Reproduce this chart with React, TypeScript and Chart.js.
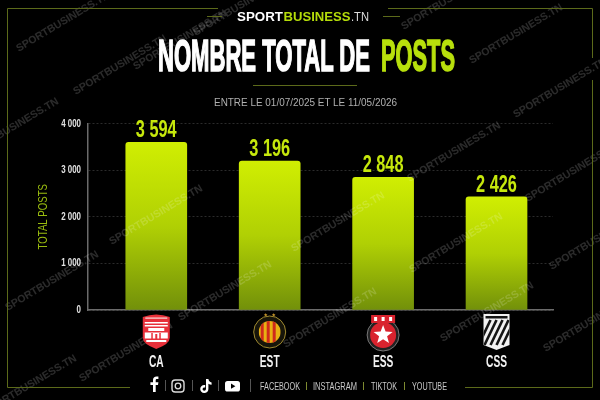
import React, { useEffect, useRef } from "react";
import { Chart, registerables } from "chart.js";

Chart.register(...registerables);

const categories = ["CA", "EST", "ESS", "CSS"];
const totalPosts = [3594, 3196, 2848, 2426];
const yTicks = [0, 1000, 2000, 3000, 4000];
const watermarkCentres = [
  [63, 22], [120, 65], [12, 128], [516, 34], [560, 88], [572, 172], [454, 152], [596, 240],
  [456, 243], [487, 312], [338, 222], [225, 291], [156, 215], [52, 281], [126, 352], [330, 318],
  [590, 322], [240, 6], [180, 40], [448, 0], [30, 385],
];

const LIME = "#b5dc0a";
const SANS = '"Liberation Sans", sans-serif';

const fmt = (v: number) => String(v).replace(/\B(?=(\d{3})+$)/g, " ");

function shield(ctx: CanvasRenderingContext2D, x: number, top: number, w: number, h: number) {
  ctx.beginPath();
  ctx.moveTo(x - w / 2, top + 3);
  ctx.quadraticCurveTo(x, top - 2, x + w / 2, top + 3);
  ctx.lineTo(x + w / 2, top + h * 0.68);
  ctx.quadraticCurveTo(x + w / 2, top + h * 0.86, x, top + h);
  ctx.quadraticCurveTo(x - w / 2, top + h * 0.86, x - w / 2, top + h * 0.68);
  ctx.closePath();
}

function star(ctx: CanvasRenderingContext2D, x: number, y: number, r: number) {
  ctx.beginPath();
  for (let i = 0; i < 10; i++) {
    const a = -Math.PI / 2 + (i * Math.PI) / 5;
    const q = i % 2 ? r * 0.42 : r;
    ctx.lineTo(x + q * Math.cos(a), y + q * Math.sin(a));
  }
  ctx.closePath();
  ctx.fill();
}

function logoCA(ctx: CanvasRenderingContext2D, x: number) {
  shield(ctx, x, 314, 27, 35);
  ctx.fillStyle = "#e8303a";
  ctx.fill();
  ctx.fillStyle = "#f6dede";
  ctx.fillRect(x - 11, 317.5, 22, 1.2);
  ctx.fillStyle = "#fff";
  ctx.fillRect(x - 11.5, 322, 23, 1.5);
  ctx.fillRect(x - 11.5, 325, 23, 1.5);
  ctx.fillRect(x - 8, 328, 16, 3);
  ctx.fillRect(x - 11.5, 332.5, 23, 6);
  ctx.fillRect(x - 10, 340, 20, 2);
  ctx.fillStyle = "#e8303a";
  ctx.fillRect(x - 5, 333, 1.5, 6);
  ctx.fillRect(x + 3, 333, 1.5, 6);
  ctx.fillRect(x - 1, 334, 2, 5);
}

function logoEST(ctx: CanvasRenderingContext2D, x: number) {
  const y = 332;
  ctx.fillStyle = "#c8962a";
  star(ctx, x - 4, 315, 2);
  star(ctx, x + 4, 315, 2);
  ctx.fillStyle = "#17150a";
  ctx.strokeStyle = "#a08a30";
  ctx.lineWidth = 1;
  ctx.beginPath();
  ctx.arc(x, y, 16, 0, Math.PI * 2);
  ctx.fill();
  ctx.stroke();
  ctx.save();
  ctx.beginPath();
  ctx.arc(x, y, 11, 0, Math.PI * 2);
  ctx.clip();
  ctx.fillStyle = "#e8b012";
  ctx.fillRect(x - 11, y - 11, 22, 22);
  ctx.fillStyle = "#cf2a1c";
  for (let i = -9; i <= 7; i += 6) ctx.fillRect(x + i, y - 11, 3, 22);
  ctx.restore();
}

function logoESS(ctx: CanvasRenderingContext2D, x: number) {
  const y = 335;
  ctx.fillStyle = "#222";
  ctx.beginPath();
  ctx.arc(x, y, 16, 0, Math.PI * 2);
  ctx.fill();
  ctx.strokeStyle = "#777";
  ctx.lineWidth = 1;
  ctx.stroke();
  ctx.fillStyle = "#d9232e";
  ctx.beginPath();
  ctx.arc(x, y, 13, 0, Math.PI * 2);
  ctx.fill();
  ctx.fillStyle = "#fff";
  star(ctx, x, y, 10);
  ctx.fillStyle = "#d9232e";
  ctx.fillRect(x - 12, 315, 24, 8);
  ctx.fillStyle = "#fff";
  ctx.fillRect(x - 9, 317, 3, 4);
  ctx.fillRect(x - 1.5, 317, 3, 4);
  ctx.fillRect(x + 6, 317, 3, 4);
}

function logoCSS(ctx: CanvasRenderingContext2D, x: number) {
  ctx.save();
  ctx.beginPath();
  ctx.moveTo(x - 13, 314);
  ctx.lineTo(x + 13, 314);
  ctx.lineTo(x + 13, 345);
  ctx.lineTo(x, 350);
  ctx.lineTo(x - 13, 345);
  ctx.closePath();
  ctx.fillStyle = "#f2f2f2";
  ctx.fill();
  ctx.clip();
  ctx.fillStyle = "#151515";
  ctx.fillRect(x - 11, 316, 22, 2.5);
  ctx.lineWidth = 2.6;
  ctx.strokeStyle = "#151515";
  for (let i = -12; i <= 12; i += 6) {
    ctx.beginPath();
    ctx.moveTo(x + i + 6, 320);
    ctx.lineTo(x + i - 6, 345);
    ctx.stroke();
  }
  ctx.restore();
}

const logos = [logoCA, logoEST, logoESS, logoCSS];

const overlayPlugin = {
  id: "overlay",
  beforeDraw(chart: any) {
    const { x: xs, y: ys } = chart.scales;
    if (ys._condensed) return;
    ys._condensed = true;
    const ctx = chart.ctx;
    const drawYLabels = ys.drawLabels.bind(ys);
    ys.drawLabels = (area: any) => {
      const anchor = ys.right - 7;
      ctx.save();
      ctx.translate(anchor, 0);
      ctx.scale(0.72, 1);
      ctx.translate(-anchor, 0);
      drawYLabels(area);
      ctx.restore();
    };
    const drawYTitle = ys.drawTitle.bind(ys);
    ys.drawTitle = () => {
      const mid = (ys.top + ys.bottom) / 2;
      ctx.save();
      ctx.translate(0, mid);
      ctx.scale(1, 0.77);
      ctx.translate(0, -mid);
      drawYTitle();
      ctx.restore();
    };
    xs.drawLabels = () => {
      ctx.save();
      ctx.fillStyle = "#f2f2f2";
      ctx.textAlign = "center";
      ctx.textBaseline = "alphabetic";
      ctx.font = `bold 17px ${SANS}`;
      xs.ticks.forEach((t: any) => {
        ctx.save();
        ctx.translate(xs.getPixelForValue(t.value), xs.top + 57);
        ctx.scale(0.6, 1);
        ctx.fillText(t.label, 0, 0);
        ctx.restore();
      });
      ctx.restore();
    };
  },
  afterDatasetsDraw(chart: any) {
    const { ctx, scales } = chart;
    ctx.save();
    ctx.textAlign = "center";
    ctx.textBaseline = "middle";
    ctx.font = `bold 10.5px ${SANS}`;
    ctx.fillStyle = "rgba(255,255,255,0.17)";
    watermarkCentres.forEach(([cx, cy]) => {
      ctx.save();
      ctx.translate(cx, cy);
      ctx.rotate((-31 * Math.PI) / 180);
      ctx.fillText("SPORTBUSINESS.TN", 0, 0);
      ctx.restore();
    });
    ctx.restore();

    ctx.save();
    ctx.fillStyle = "#c6e80c";
    ctx.textAlign = "center";
    ctx.textBaseline = "alphabetic";
    ctx.font = `bold 24px ${SANS}`;
    totalPosts.forEach((v, i) => {
      const x = scales.x.getPixelForValue(i);
      const y = scales.y.getPixelForValue(v);
      ctx.save();
      ctx.translate(x, y - 5);
      ctx.scale(0.68, 1);
      ctx.fillText(fmt(v), 0, 0);
      ctx.restore();
    });
    ctx.restore();

    logos.forEach((draw, i) => {
      ctx.save();
      draw(ctx, scales.x.getPixelForValue(i));
      ctx.restore();
    });
  },
};

function Icons() {
  return (
    <g>
      <path d="M154 392v-7h-2.6v-2.8h2.6v-2.2c0-2.4 1.4-3.6 3.5-3.6h1.9v2.7h-1.3c-1 0-1.4.5-1.4 1.3v1.8h2.7l-.4 2.8h-2.3v7z" fill="#fff" transform="translate(-1 0)" />
      <rect x="172" y="380" width="12" height="12" rx="3.2" fill="none" stroke="#ddd" strokeWidth="1.4" />
      <circle cx="178" cy="386" r="2.8" fill="none" stroke="#ddd" strokeWidth="1.3" />
      <path d="M206 379h2.4c.2 1.9 1.4 3.2 3.2 3.4v2.4c-1.2 0-2.3-.4-3.2-1v5.2c0 2.4-1.9 4-4.2 4s-4-1.8-4-4c0-2.5 2.2-4.4 5-3.9v2.5c-1.3-.4-2.6.3-2.6 1.5 0 1 .8 1.6 1.6 1.6 1 0 1.8-.7 1.8-1.9z" fill="#fff" />
      <rect x="225" y="381" width="15" height="10.5" rx="2.6" fill="#fff" />
      <path d="M231 383.6v5.2l4.4-2.6z" fill="#000" />
      {[165, 192, 218, 250].map((x, i) => (
        <rect key={x} x={x} y={i === 3 ? 379 : 380} width="1" height={i === 3 ? 13 : 11} fill="#555" />
      ))}
    </g>
  );
}

export default function App() {
  const ref = useRef<HTMLCanvasElement | null>(null);

  useEffect(() => {
    document.body.style.margin = "0";
    document.body.style.background = "#000";
    const chart = new Chart(ref.current!, {
      type: "bar",
      plugins: [overlayPlugin],
      data: {
        datasets: [
          {
            label: "Total posts",
            data: totalPosts.map((y, x) => ({ x, y })),
            barThickness: 61,
            borderRadius: { topLeft: 3, topRight: 3, bottomLeft: 0, bottomRight: 0 },
            borderSkipped: false,
            backgroundColor: (c: any) => {
              const { chart: ch, raw } = c;
              if (!raw || !ch.scales.y || !ch.chartArea) return LIME;
              const top = ch.scales.y.getPixelForValue(raw.y);
              const bottom = ch.scales.y.getPixelForValue(0);
              if (!Number.isFinite(top) || !Number.isFinite(bottom)) return LIME;
              const g = ch.ctx.createLinearGradient(0, top, 0, bottom);
              g.addColorStop(0, "#d0ee02");
              g.addColorStop(0.5, "#b0d004");
              g.addColorStop(1, "#72900a");
              return g;
            },
          },
        ],
      } as any,
      options: {
        animation: false,
        responsive: false,
        layout: { padding: { top: 123.5, right: 47, bottom: 0, left: 0 } },
        plugins: { legend: { display: false }, tooltip: { enabled: false }, title: { display: false } },
        scales: {
          x: {
            type: "linear",
            offset: false,
            min: -0.602,
            max: 3.498,
            afterFit: (s: any) => { s.height = 90; },
            grid: { display: false, drawTicks: false },
            border: { color: "#6b6b6b", width: 1.5 },
            ticks: {
              stepSize: 1,
              includeBounds: false,
              autoSkip: false,
              maxRotation: 0,
              padding: 44,
              color: "#f2f2f2",
              font: { family: SANS, size: 17, weight: "bold" },
              callback: (v: any) => categories[v] ?? "",
            },
          },
          y: {
            min: 0,
            max: 4000,
            afterFit: (s: any) => { s.width = 88; },
            afterBuildTicks: (s: any) => { s.ticks = yTicks.map((value) => ({ value })); },
            grid: { color: "#2b2b2b", drawTicks: false, lineWidth: 1 },
            border: { color: "#6b6b6b", width: 1.5, dash: [2, 2] },
            title: {
              display: true,
              text: "TOTAL POSTS",
              color: "#98ba0f",
              padding: { top: 36, bottom: 0 },
              font: { family: SANS, size: 12.5 },
            },
            ticks: {
              padding: 7,
              color: "#e2e2e2",
              font: { family: SANS, size: 11, weight: "bold" },
              callback: (v: any) => fmt(Number(v)),
            },
          },
        },
      } as any,
    });
    chart.update();
    return () => chart.destroy();
  }, []);

  const frame = "#5c6a1a";
  const t = { fontFamily: "Liberation Sans", lengthAdjust: "spacingAndGlyphs" } as any;
  return (
    <div style={{ position: "fixed", left: 0, top: 0, width: 600, height: 400, background: "#000", overflow: "hidden" }}>
      <canvas ref={ref} width={600} height={400} style={{ position: "absolute", left: 0, top: 0 }} />
      <svg width="600" height="400" style={{ position: "absolute", left: 0, top: 0, pointerEvents: "none" }}>
        <path d={`M218 8.5H7.5V387.5H130`} fill="none" stroke={frame} strokeWidth="1" />
        <path d={`M388 8.5H592.5V58M592.5 80V387.5H465`} fill="none" stroke={frame} strokeWidth="1" />
        <path d="M207 16.5h15M383 16.5h17M253 85.5h104" fill="none" stroke={frame} strokeWidth="1" />
        <text {...t} x="237" y="21" fontWeight="bold" fontSize="13" fill="#fff" textLength="46">SPORT</text>
        <text {...t} x="283.5" y="21" fontWeight="bold" fontSize="13" fill="#b5dc0a" textLength="67">BUSINESS</text>
        <text {...t} x="351" y="21" fontSize="13" fill="#ddd" textLength="18">.TN</text>
        <text {...t} x="158" y="71" fontWeight="bold" fontSize="44.5" fill="#fff" stroke="#fff" strokeWidth="1.6" textLength="212">NOMBRE TOTAL DE</text>
        <text {...t} x="381" y="71" fontWeight="bold" fontSize="44.5" fill="#b8e00c" stroke="#b8e00c" strokeWidth="1.6" textLength="74">POSTS</text>
        <text {...t} x="214" y="106" fontSize="11" fill="#b0b0b0" textLength="183">ENTRE LE 01/07/2025 ET LE 11/05/2026</text>
        <Icons />
        <text {...t} x="260" y="390" fontSize="10.5" fill="#c8c8c8" textLength="40">FACEBOOK</text>
        <text {...t} x="313" y="390" fontSize="10.5" fill="#c8c8c8" textLength="44">INSTAGRAM</text>
        <text {...t} x="371" y="390" fontSize="10.5" fill="#c8c8c8" textLength="26">TIKTOK</text>
        <text {...t} x="412" y="390" fontSize="10.5" fill="#c8c8c8" textLength="35">YOUTUBE</text>
        <path d="M306.5 382v8M363.5 382v8M404.5 382v8" stroke="#7d8a30" strokeWidth="1" />
      </svg>
    </div>
  );
}
